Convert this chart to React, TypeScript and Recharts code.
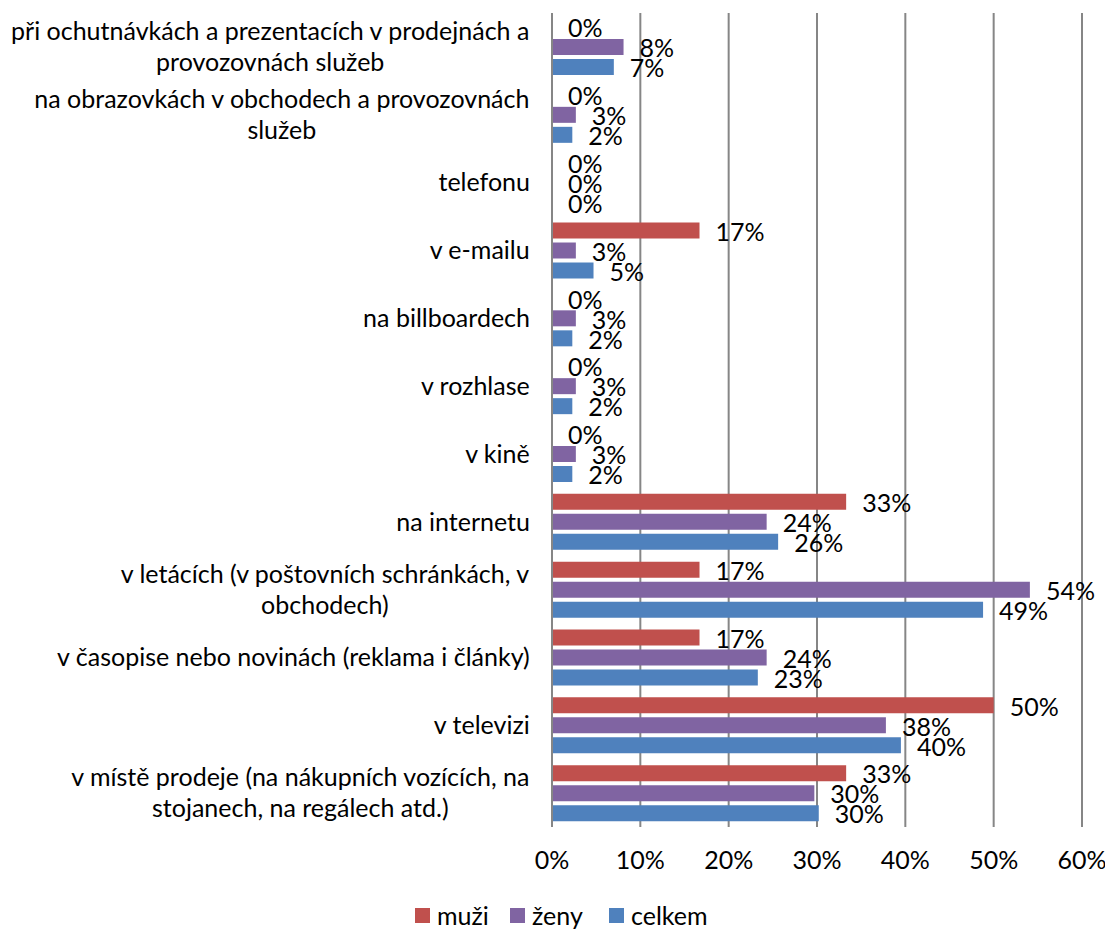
import React from 'react';
import {
  BarChart,
  Bar,
  XAxis,
  YAxis,
  CartesianGrid,
  LabelList,
} from 'recharts';

// categories from top to bottom, '\n' marks the line break used in the picture
const categories = [
  'při ochutnávkách a prezentacích v prodejnách a\nprovozovnách služeb',
  'na obrazovkách v obchodech a provozovnách\nslužeb',
  'telefonu',
  'v e-mailu',
  'na billboardech',
  'v rozhlase',
  'v kině',
  'na internetu',
  'v letácích (v poštovních schránkách, v\nobchodech)',
  'v časopise nebo novinách (reklama i články)',
  'v televizi',
  'v místě prodeje (na nákupních vozících, na\nstojanech, na regálech atd.)',
];

const muzi = [0, 0, 0, 16.7, 0, 0, 0, 33.3, 16.7, 16.7, 50.0, 33.3];
const zeny = [8.1, 2.7, 0, 2.7, 2.7, 2.7, 2.7, 24.3, 54.1, 24.3, 37.8, 29.7];
const celkem = [7.0, 2.3, 0, 4.7, 2.3, 2.3, 2.3, 25.6, 48.8, 23.3, 39.5, 30.2];

const xTicks = [0, 10, 20, 30, 40, 50, 60];

const data = categories.map((name, i) => ({
  name,
  muzi: muzi[i],
  zeny: zeny[i],
  celkem: celkem[i],
}));

const FONT = 'Lato, "Open Sans", sans-serif';
const FS = 25;
const LINE_H = 31;
const GRID = '#868686';

let ctx: CanvasRenderingContext2D | null = null;
function measure(text: string) {
  if (!ctx) {
    ctx = document.createElement('canvas').getContext('2d');
  }
  if (!ctx) return text.length * FS * 0.5;
  ctx.font = `${FS}px Lato`;
  return ctx.measureText(text).width;
}

// multi-line category label: block right-aligned, lines centred inside it
function CategoryTick(props: any) {
  const { x, y, payload } = props;
  const lines: string[] = String(payload.value).split('\n');
  const block = Math.max(...lines.map(measure));
  const cx = x - block / 2;
  const top = y - ((lines.length - 1) * LINE_H) / 2;
  return (
    <text textAnchor="middle" fontSize={FS} fill="#000" fontFamily={FONT}>
      {lines.map((l, i) => (
        <tspan key={i} x={cx} y={top + i * LINE_H} dy="0.35em">
          {l}
        </tspan>
      ))}
    </text>
  );
}

function ValueLabel(props: any) {
  const { x, y, width, height, value } = props;
  return (
    <text
      x={x + Math.max(width, 0) + 16}
      y={y + height / 2 + 1.5}
      dy="0.35em"
      fontSize={FS}
      fill="#000"
      fontFamily={FONT}
    >
      {Math.round(value)}%
    </text>
  );
}

const legendItems = [
  { label: 'muži', color: '#C0504D', slot: 95 },
  { label: 'ženy', color: '#8064A2', slot: 99 },
  { label: 'celkem', color: '#4F81BD', slot: 0 },
];

export default function App() {
  return (
    <div
      style={{
        position: 'absolute',
        left: 0,
        top: 0,
        width: 1105,
        height: 929,
        background: '#fff',
        fontFamily: FONT,
      }}
    >
      <BarChart
        width={1105}
        height={929}
        data={data}
        layout="vertical"
        margin={{ top: 13, right: 23, left: 0, bottom: 0 }}
        barSize={16}
        barGap={4}
        style={{ overflow: 'visible' }}
      >
        <CartesianGrid horizontal={false} stroke={GRID} strokeWidth={2} />
        <XAxis
          type="number"
          domain={[0, 60]}
          ticks={xTicks}
          tickFormatter={(v) => `${v}%`}
          axisLine={false}
          tickLine={false}
          tickSize={0}
          tickMargin={24}
          height={102}
          tick={{ fontSize: FS, fill: '#000', fontFamily: FONT }}
        />
        <YAxis
          type="category"
          dataKey="name"
          width={552}
          axisLine={{ stroke: GRID, strokeWidth: 2 }}
          tickLine={false}
          tickSize={0}
          tickMargin={22}
          interval={0}
          tick={<CategoryTick />}
        />
        <Bar dataKey="muzi" name="muži" fill="#C0504D" minPointSize={0.01} isAnimationActive={false}>
          <LabelList dataKey="muzi" content={<ValueLabel />} />
        </Bar>
        <Bar dataKey="zeny" name="ženy" fill="#8064A2" minPointSize={0.01} isAnimationActive={false}>
          <LabelList dataKey="zeny" content={<ValueLabel />} />
        </Bar>
        <Bar dataKey="celkem" name="celkem" fill="#4F81BD" minPointSize={0.01} isAnimationActive={false}>
          <LabelList dataKey="celkem" content={<ValueLabel />} />
        </Bar>
      </BarChart>
      <div
        style={{
          position: 'absolute',
          top: 903,
          left: 415,
          display: 'flex',
          alignItems: 'center',
          fontSize: FS,
          lineHeight: '24px',
          color: '#000',
        }}
      >
        {legendItems.map((it) => (
          <div
            key={it.label}
            style={{
              display: 'flex',
              alignItems: 'center',
              width: it.slot || undefined,
            }}
          >
            <span
              style={{
                display: 'inline-block',
                width: 15,
                height: 15,
                background: it.color,
                marginRight: 7,
              }}
            />
            <span>{it.label}</span>
          </div>
        ))}
      </div>
    </div>
  );
}
